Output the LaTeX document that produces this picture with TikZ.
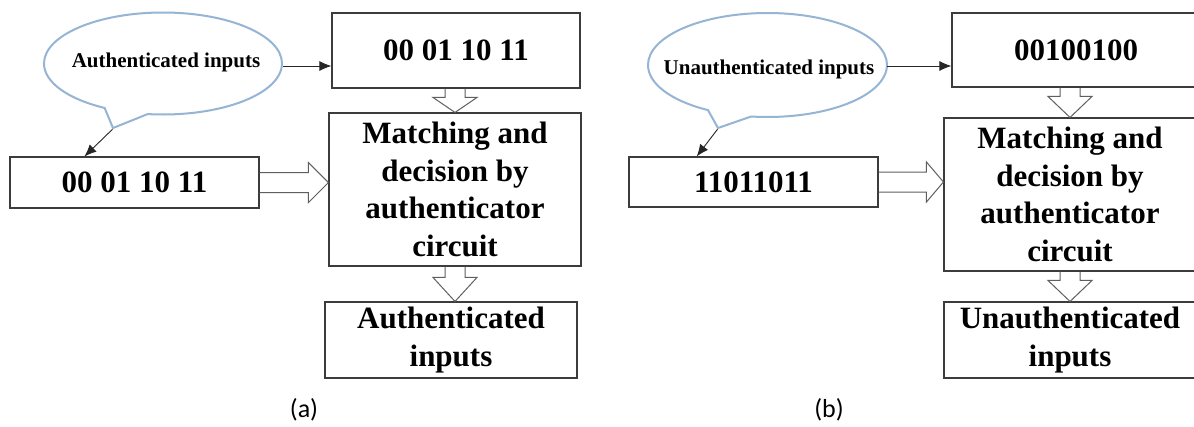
\documentclass[tikz,border=0pt]{standalone}
\usepackage{fontspec}
\setmainfont{Liberation Serif}
\newfontfamily\capfont{Carlito}
\usetikzlibrary{shapes.callouts,arrows.meta,calc}
\definecolor{calloutblue}{RGB}{150,180,212}
\definecolor{boxgray}{RGB}{60,60,60}
\definecolor{hollowgray}{RGB}{95,95,95}
\newcommand\hollowdn[3]{%
  \draw[hollow] let \p1=(#1), \p2=(#2) in
    (\x2-10pt,\y1) -- (\x2-10pt,\y2+#3) -- (\x2-22pt,\y2+#3) -- (\x2,\y2)
    -- (\x2+22pt,\y2+#3) -- (\x2+10pt,\y2+#3) -- (\x2+10pt,\y1);}
\newcommand\hollowrt[3]{%
  \draw[hollow] let \p1=(#1), \p2=(#2) in
    (\x1,\y2+10pt) -- (\x2-#3,\y2+10pt) -- (\x2-#3,\y2+20pt) -- (\x2,\y2)
    -- (\x2-#3,\y2-20pt) -- (\x2-#3,\y2-10pt) -- (\x1,\y2-10pt);}
\begin{document}
\begin{tikzpicture}[x=1pt,y=-1pt,
  box/.style={draw=boxgray,line width=1.1pt,inner sep=0pt,align=center,
    font=\bfseries\fontsize{31}{37.5}\selectfont},
  bubble/.style={ellipse callout,draw=calloutblue,line width=2pt,inner sep=0pt,
    callout pointer arc=22},
  bubbletext/.style={font=\bfseries\fontsize{21}{25}\selectfont,inner sep=0pt},
  thinarrow/.style={draw=black!85,line width=0.9pt,-{Latex[length=12pt,width=10pt]}},
  hollow/.style={draw=hollowgray,line width=1pt,line join=miter},
  caption/.style={font=\capfont\fontsize{26}{30}\selectfont,inner sep=0pt}]
\fill[white] (0,0) rectangle (1194,426);
\useasboundingbox (0,0) rectangle (1194,426);

% ---------- panel (a) ----------
\node[bubble,minimum width=238,minimum height=102,
  callout absolute pointer={(113,128)}] (lcall) at (163,63.5) {};
\node[bubbletext] (lcalltext) at (166,62) {Authenticated inputs};
\node[box,minimum width=248,minimum height=75] (ltop) at (456,50.5) {00 01 10 11};
\node[box,minimum width=252,minimum height=153] (lmatch) at (455,189.5)
  {Matching and\\decision by\\authenticator\\circuit};
\node[box,minimum width=249,minimum height=51] (lsmall) at (134.5,182.5) {00 01 10 11};
\node[box,minimum width=252,minimum height=76] (lbot) at (451,340)
  {Authenticated\\inputs};
\node[caption] (lcap) at (304,410) {(a)};

\coordinate (lcallout) at (283,66);
\draw[thinarrow] (lcallout) -- (lcallout -| ltop.west);
\coordinate (lsmallin) at ($(lsmall.north west)!0.3!(lsmall.north east)$);
\draw[thinarrow] (lcall.pointer) -- (lsmallin);
\hollowdn{ltop.south -| lmatch.north}{lmatch.north}{15pt}
\hollowdn{lmatch.south}{lmatch.south |- lbot.north}{24pt}
\hollowrt{lsmall.east}{lsmall.east -| lmatch.west}{20pt}

% ---------- panel (b) ----------
\node[bubble,minimum width=239,minimum height=104,
  callout absolute pointer={(718,128)}] (rcall) at (767.5,65) {};
\node[bubbletext] (rcalltext) at (769,69) {Unauthenticated inputs};
\node[box,minimum width=248,minimum height=74] (rtop) at (1076,50) {00100100};
\node[box,minimum width=252,minimum height=153] (rmatch) at (1070,194.5)
  {Matching and\\decision by\\authenticator\\circuit};
\node[box,minimum width=249,minimum height=50] (rsmall) at (753.5,182) {11011011};
\node[box,minimum width=252,minimum height=76] (rbot) at (1070,340)
  {Unauthenticated\\inputs};
\node[caption] (rcap) at (829,410) {(b)};

\coordinate (rcallout) at (887,66);
\draw[thinarrow] (rcallout) -- (rcallout -| rtop.west);
\coordinate (rsmallin) at ($(rsmall.north west)!0.273!(rsmall.north east)$);
\draw[thinarrow] (rcall.pointer) -- (rsmallin);
\hollowdn{rtop.south -| rmatch.north}{rmatch.north}{21pt}
\hollowdn{rmatch.south}{rmatch.south |- rbot.north}{21pt}
\hollowrt{rsmall.east}{rsmall.east -| rmatch.west}{17pt}
\end{tikzpicture}
\end{document}
